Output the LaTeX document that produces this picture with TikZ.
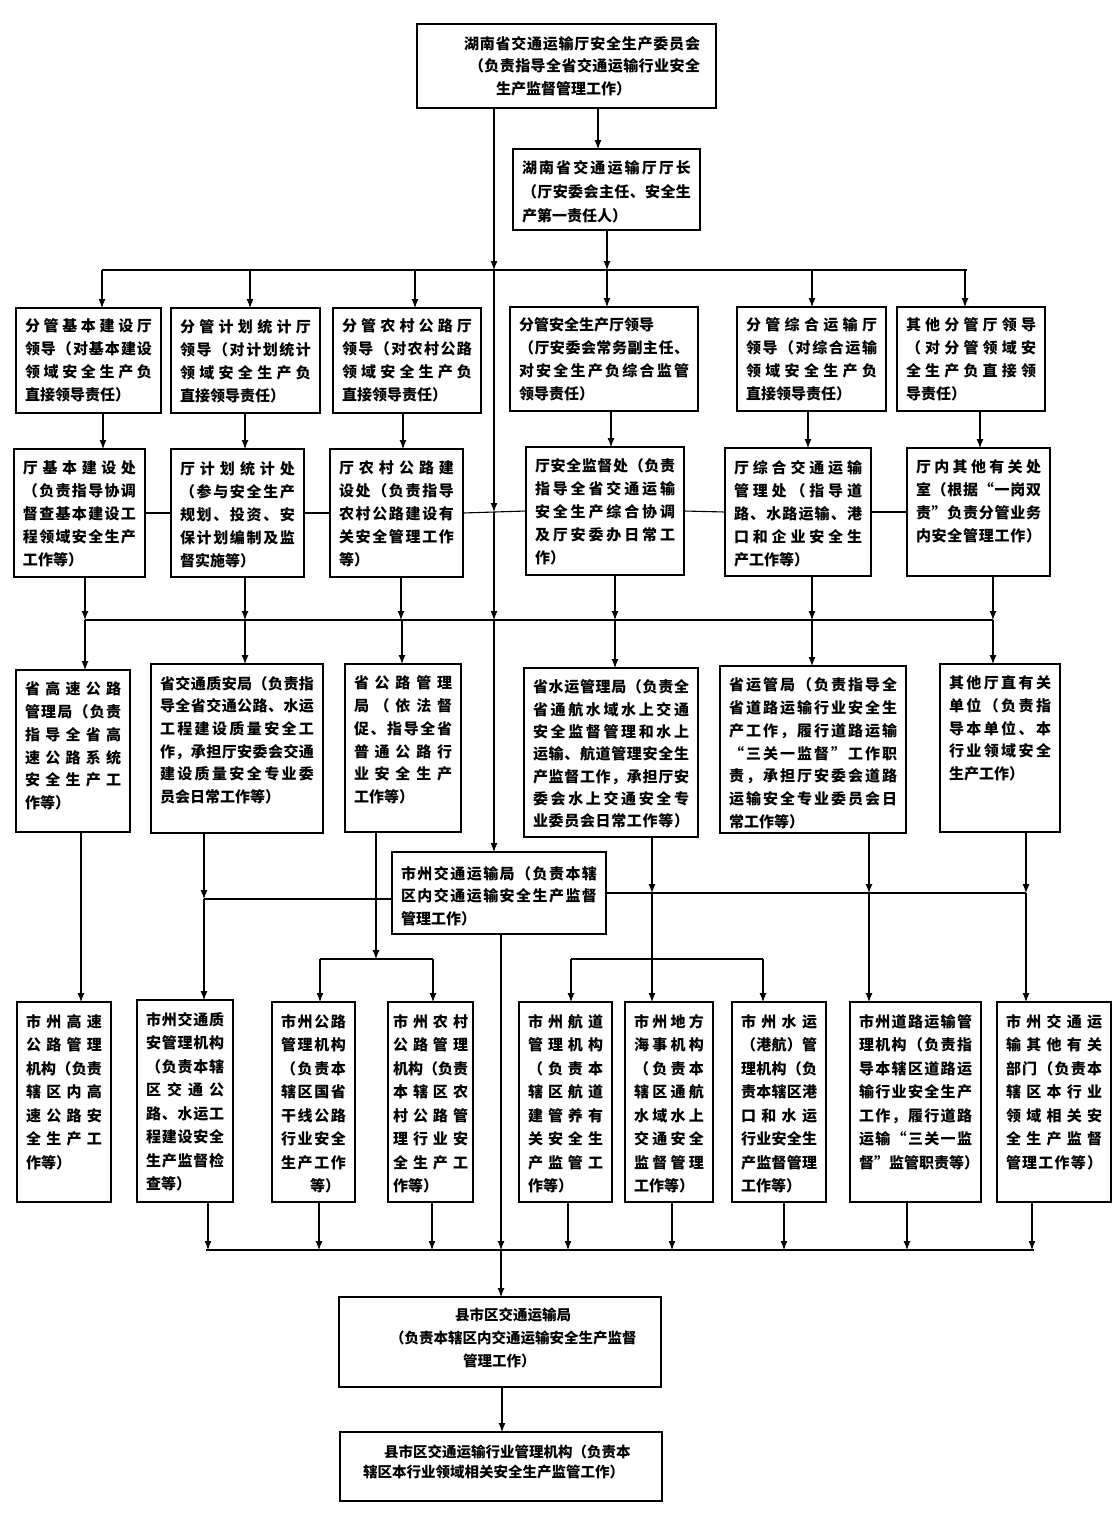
\documentclass[tikz,border=0pt]{standalone}
\usepackage{fontspec}
\setmainfont{Noto Sans CJK SC}
\usetikzlibrary{arrows.meta}
\def\gb#1{}
\def\jxa#1#2{#1\ifx\relax#2\expandafter\gb\else\hfil\expandafter\jxa\fi#2}
\newcommand\J[1]{\hbox to\hsize{\jxa#1\relax}}
\newcommand\W[2]{\hbox to #1{\jxa#2\relax}}
\newcommand\Lx[1]{\hbox{#1}}
\def\py{12}
\tikzset{
 box/.style={draw, line width=1.6pt, fill=white, inner sep=0pt, outer sep=0pt},
 txt/.style={anchor=north west, inner sep=0pt, outer sep=0pt, font=\fontsize{15}{23}\selectfont\bfseries},
 arr/.style={line width=1.1pt, -{Latex[length=9pt,width=7pt]}},
 ln/.style={line width=1.1pt},
 bus/.style={line width=1.8pt},
}
\newcommand\bx[7][9]{%
 \pgfmathsetmacro\bw{#5-#3-2*#1}%
 \pgfmathsetmacro\bwid{#5-#3}%
 \pgfmathsetmacro\bht{#6-#4}%
 \node[box,minimum width=\bwid pt,minimum height=\bht pt] (#2) at ({(#3+#5)/2},{(#4+#6)/2}) {};
 \node[txt] (#2t) at ([xshift=#1pt,yshift=-\py pt]#2.north west) {\vtop{\hsize=\bw pt\relax #7}};
}
\begin{document}
\begin{tikzpicture}[x=1pt,y=-1pt]
\fill[white] (0,0) rectangle (1117,1520);
\useasboundingbox (0,0) rectangle (1117,1520);

% top
\bx{T}{417}{24}{716}{108}{\baselineskip=22.5pt
 \Lx{\hskip38pt\W{236pt}{湖南省交通运输厅安全生产委员会}}
 \Lx{\hskip43pt\W{231pt}{（负责指导全省交通运输行业安全}}
 \Lx{\hskip70pt 生产监督管理工作）}}
\def\py{11}
\bx{S}{513}{149}{700}{230}{\baselineskip=24pt\J{湖南省交通运输厅厅长}\J{（厅安委会主任、安全生}\Lx{产第一责任人）}}

% row 2
\bx{r2a}{16}{308}{161}{413}{\J{分管基本建设厅}\J{领导（对基本建设}\J{领域安全生产负}\Lx{直接领导责任）}}
\bx{r2b}{171}{308}{320}{413}{\J{分管计划统计厅}\J{领导（对计划统计}\J{领域安全生产负}\Lx{直接领导责任）}}
\bx{r2c}{333}{308}{481}{413}{\J{分管农村公路厅}\J{领导（对农村公路}\J{领域安全生产负}\Lx{直接领导责任）}}
\bx{r2d}{510}{307}{698}{411}{\Lx{分管安全生产厅领导}\J{（厅安委会常务副主任、}\J{对安全生产负综合监管}\Lx{领导责任）}}
\bx{r2e}{737}{307}{886}{411}{\J{分管综合运输厅}\J{领导（对综合运输}\J{领域安全生产负}\Lx{直接领导责任）}}
\bx{r2f}{897}{307}{1045}{411}{\J{其他分管厅领导}\J{（对分管领域安}\J{全生产负直接领}\Lx{导责任）}}

% row 3
\def\py{12}
\bx{r3a}{14}{449}{145}{577}{\J{厅基本建设处}\J{（负责指导协调}\J{督查基本建设工}\J{程领域安全生产}\Lx{工作等）}}
\bx{r3b}{171}{449}{304}{577}{\J{厅计划统计处}\J{（参与安全生产}\J{规划、投资、安}\J{保计划编制及监}\Lx{督实施等）}}
\bx{r3c}{330}{449}{463}{577}{\J{厅农村公路建}\J{设处（负责指导}\J{农村公路建设有}\J{关安全管理工作}\Lx{等）}}
\bx{r3d}{526}{447}{684}{575}{\J{厅安全监督处（负责}\J{指导全省交通运输}\J{安全生产综合协调}\J{及厅安委办日常工}\Lx{作）}}
\bx{r3e}{725}{448}{871}{576}{\J{厅综合交通运输}\J{管理处（指导道}\J{路、水路运输、港}\J{口和企业安全生}\Lx{产工作等）}}
\bx{r3f}{907}{448}{1050}{576}{\J{厅内其他有关处}\J{室（根据“一岗双}\J{责”负责分管业务}\J{内安全管理工作）}}

% row 4
\bx{r4a}{16}{670}{130}{832}{\baselineskip=22.7pt\J{省高速公路}\J{管理局（负责}\J{指导全省高}\J{速公路系统}\J{安全生产工}\Lx{作等）}}
\bx{r4b}{151}{664}{323}{833}{\baselineskip=22.7pt\J{省交通质安局（负责指}\J{导全省交通公路、水运}\J{工程建设质量安全工}\J{作，承担厅安委会交通}\J{建设质量安全专业委}\Lx{员会日常工作等）}}
\bx{r4c}{345}{664}{461}{832}{\baselineskip=22.7pt\J{省公路管理}\J{局（依法督}\J{促、指导全省}\J{普通公路行}\J{业安全生产}\Lx{工作等）}}
\bx{r4d}{524}{668}{698}{837}{\baselineskip=22.3pt\J{省水运管理局（负责全}\J{省通航水域水上交通}\J{安全监督管理和水上}\J{运输、航道管理安全生}\J{产监督工作，承担厅安}\J{委会水上交通安全专}\J{业委员会日常工作等）}}
\bx{r4e}{720}{666}{906}{833}{\baselineskip=22.7pt\J{省运管局（负责指导全}\J{省道路运输行业安全生}\J{产工作，履行道路运输}\J{“三关一监督”工作职}\J{责，承担厅安委会道路}\J{运输安全专业委员会日}\Lx{常工作等）}}
\bx{r4f}{940}{664}{1060}{832}{\baselineskip=22.7pt\J{其他厅直有关}\J{单位（负责指}\J{导本单位、本}\J{行业领域安全}\Lx{生产工作）}}

% city bureau
\def\py{14}
\bx{M}{392}{852}{606}{934}{\baselineskip=22.5pt\J{市州交通运输局（负责本辖}\J{区内交通运输安全生产监督}\Lx{管理工作）}}

% row 5
\def\py{12}
\bx{r5a}{17}{1002}{111}{1202}{\baselineskip=23.5pt\J{市州高速}\J{公路管理}\J{机构（负责}\J{辖区内高}\J{速公路安}\J{全生产工}\Lx{作等）}}
\bx{r5b}{137}{1000}{233}{1202}{\baselineskip=23.5pt\J{市州交通质}\J{安管理机构}\J{（负责本辖}\J{区交通公}\J{路、水运工}\J{程建设安全}\J{生产监督检}\Lx{查等）}}
\bx{r5c}{272}{1002}{355}{1202}{\baselineskip=23.5pt\J{市州公路}\J{管理机构}\J{（负责本}\J{辖区国省}\J{干线公路}\J{行业安全}\J{生产工作}\Lx{\hskip29pt 等）}}
\bx[5]{r5d}{388}{1002}{473}{1202}{\baselineskip=23.5pt\J{市州农村}\J{公路管理}\J{机构（负责}\J{本辖区农}\J{村公路管}\J{理行业安}\J{全生产工}\Lx{作等）}}
\bx{r5e}{519}{1002}{612}{1202}{\baselineskip=23.5pt\J{市州航道}\J{管理机构}\J{（负责本}\J{辖区航道}\J{建管养有}\J{关安全生}\J{产监管工}\Lx{作等）}}
\bx{r5f}{625}{1002}{713}{1202}{\baselineskip=23.5pt\J{市州地方}\J{海事机构}\J{（负责本}\J{辖区通航}\J{水域水上}\J{交通安全}\J{监督管理}\Lx{工作等）}}
\bx{r5g}{732}{1002}{826}{1202}{\baselineskip=23.5pt\J{市州水运}\J{（港航）管}\J{理机构（负}\J{责本辖区港}\J{口和水运}\J{行业安全生}\J{产监督管理}\Lx{工作等）}}
\bx{r5h}{850}{1002}{981}{1202}{\baselineskip=23.5pt\J{市州道路运输管}\J{理机构（负责指}\J{导本辖区道路运}\J{输行业安全生产}\J{工作，履行道路}\J{运输“三关一监}\J{督”监管职责等）}}
\bx{r5i}{997}{1002}{1111}{1202}{\baselineskip=23.5pt\J{市州交通运}\J{输其他有关}\J{部门（负责本}\J{辖区本行业}\J{领域相关安}\J{全生产监督}\J{管理工作等）}}

% county
\def\py{11}
\bx{K1}{339}{1297}{661}{1387}{\fontsize{14.5}{23}\selectfont
 \Lx{\hskip107pt 县市区交通运输局}
 \Lx{\hskip42pt （负责本辖区内交通运输安全生产监督}
 \Lx{\hskip115pt 管理工作）}}
\def\py{13}
\bx{K2}{340}{1432}{662}{1501}{\fontsize{14.5}{20}\selectfont
 \Lx{\hskip35pt 县市区交通运输行业管理机构（负责本}
 \Lx{\hskip14pt 辖区本行业领域相关安全生产监管工作）}}

% level coordinates
\coordinate (yb1) at (0,270);
\coordinate (yb3) at (0,512);
\coordinate (yb4) at (0,620);
\coordinate (yL) at (0,899);
\coordinate (yR) at (0,893);
\coordinate (yBr) at (0,959);
\coordinate (yb5) at (0,1250);
\coordinate (xm) at (494,0);

% top part
\draw[arr] (T.south -| 598,0) -- (S.north -| 598,0);
\draw[arr] (S.south -| 607,0) -- (yb1 -| 607,0);
\draw[bus] (yb1 -| 102,0) -- (yb1 -| 967,0);
\foreach \x/\n in {102/r2a,250/r2b,415/r2c,607/r2d,812/r2e,965/r2f}
  \draw[arr] (yb1 -| \x,0) -- (\n.north -| \x,0);
\foreach \x/\a/\b in {103/r2a/r3a,245/r2b/r3b,403/r2c/r3c,611/r2d/r3d,808/r2e/r3e,980/r2f/r3f}
  \draw[arr] (\a.south -| \x,0) -- (\b.north -| \x,0);

% middle spine
\draw[arr] (T.south -| xm) -- (yb1 -| xm);
\draw[arr] (yb1 -| xm) -- (yb3 -| xm);
\draw[arr] (yb3 -| xm) -- (yb4 -| xm);
\draw[arr] (yb4 -| xm) -- (M.north -| xm);

% row 3 links
\draw[ln] (r3a.east) -- (r3b.west);
\draw[ln] (r3b.east) -- (r3c.west);
\draw[ln] (r3c.east) -- (r3d.west);
\draw[ln] (r3d.east) -- (r3e.west);
\draw[ln] (r3e.east) -- (r3f.west);

% row 3 -> row 4
\foreach \x/\a in {85/r3a,245/r3b,401/r3c,615/r3d,812/r3e,993/r3f}
  \draw[arr] (\a.south -| \x,0) -- (yb4 -| \x,0);
\draw[bus] (yb4 -| 85,0) -- (yb4 -| 993,0);
\foreach \x/\b in {85/r4a,245/r4b,402/r4c,615/r4d,812/r4e,993/r4f}
  \draw[arr] (yb4 -| \x,0) -- (\b.north -| \x,0);

% row 4 -> row 5
\draw[arr] (r4a.south -| 81,0) -- (r5a.north -| 81,0);
\draw[arr] (r4b.south -| 204,0) -- (yL -| 204,0);
\draw[bus] (M.west |- yL) -- (yL -| 204,0);
\draw[arr] (yL -| 204,0) -- (r5b.north -| 204,0);
\draw[arr] (r4c.south -| 376,0) -- (yBr -| 376,0);
\draw[bus] (yBr -| 320,0) -- (yBr -| 433,0);
\draw[arr] (yBr -| 320,0) -- (r5c.north -| 320,0);
\draw[arr] (yBr -| 433,0) -- (r5d.north -| 433,0);
\draw[bus] (M.east |- yR) -- (yR -| 1026,0);
\draw[arr] (r4d.south -| 652,0) -- (yR -| 652,0);
\draw[ln] (yR -| 652,0) -- (yBr -| 652,0);
\draw[bus] (yBr -| 571,0) -- (yBr -| 763,0);
\foreach \x/\b in {571/r5e,652/r5f,763/r5g}
  \draw[arr] (yBr -| \x,0) -- (\b.north -| \x,0);
\draw[arr] (r4e.south -| 869,0) -- (yR -| 869,0);
\draw[arr] (yR -| 869,0) -- (r5h.north -| 869,0);
\draw[arr] (r4f.south -| 1026,0) -- (yR -| 1026,0);
\draw[arr] (yR -| 1026,0) -- (r5i.north -| 1026,0);

% to county level
\draw[arr] (M.south -| 501,0) -- (yb5 -| 501,0);
\draw[arr] (yb5 -| 501,0) -- (K1.north -| 501,0);
\draw[bus] (yb5 -| 206,0) -- (yb5 -| 1034,0);
\foreach \x/\a in {208/r5b,319/r5c,432/r5d,568/r5e,672/r5f,784/r5g,907/r5h,1032/r5i}
  \draw[arr] (\a.south -| \x,0) -- (yb5 -| \x,0);
\draw[arr] (K1.south -| 502,0) -- (K2.north -| 502,0);
\end{tikzpicture}
\end{document}
